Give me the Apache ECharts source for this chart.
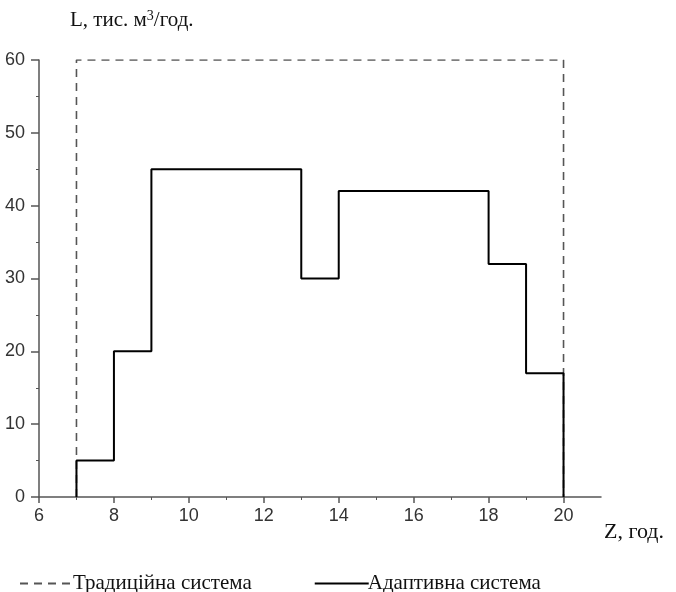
<!DOCTYPE html>
<html><head><meta charset="utf-8">
<script src="https://cdn.jsdelivr.net/npm/echarts@6/dist/echarts.min.js"></script>
<style>html,body{margin:0;padding:0;background:#fff}#c{width:676px;height:592px}</style>
</head><body><div id="c"></div>
<script>
// Traditional system: rectangle outline
const tradX = [7, 7, 20, 20];
const tradY = [0, 60, 60, 0];
// Adaptive system: step boundaries and level values
const adaptBreaks = [7, 8, 9, 13, 14, 18, 19, 20];
const adaptLevels = [5, 20, 45, 30, 42, 32, 17];
const xTicks = [6, 8, 10, 12, 14, 16, 18, 20];
const yTicks = [0, 10, 20, 30, 40, 50, 60];

const tradData = tradX.map((x, i) => [x, tradY[i]]);
const adaptData = [[adaptBreaks[0], 0]];
adaptLevels.forEach((v, i) => { adaptData.push([adaptBreaks[i], v]); adaptData.push([adaptBreaks[i + 1], v]); });
adaptData.push([adaptBreaks[adaptBreaks.length - 1], 0]);

const chart = echarts.init(document.getElementById('c'));
const axisCol = '#555';
chart.setOption({
  animation: false,
  backgroundColor: '#fff',
  grid: { left: 39, right: 75, top: 60, bottom: 95 },
  xAxis: {
    type: 'value', min: 6, max: 21, interval: 2,
    axisLine: { show: true, lineStyle: { color: axisCol, width: 1.5 } },
    axisTick: { show: true, length: 6, lineStyle: { color: axisCol, width: 1.5 }, customValues: xTicks },
    minorTick: { show: true, splitNumber: 2, length: 3, lineStyle: { color: axisCol, width: 1 } },
    axisLabel: { color: '#333', fontFamily: 'Liberation Sans', fontSize: 18, margin: 10, customValues: xTicks },
    splitLine: { show: false }
  },
  yAxis: {
    type: 'value', min: 0, max: 60, interval: 10,
    axisLine: { show: true, lineStyle: { color: axisCol, width: 1.5 } },
    axisTick: { show: true, length: 8, lineStyle: { color: axisCol, width: 1.5 } },
    minorTick: { show: true, splitNumber: 2, length: 3, lineStyle: { color: axisCol, width: 1 } },
    axisLabel: { color: '#333', fontFamily: 'Liberation Sans', fontSize: 18, margin: 14 },
    splitLine: { show: false }
  },
  legend: {
    top: 568, left: 14, itemWidth: 54, itemHeight: 14, itemGap: 62,
    itemStyle: { opacity: 0, borderWidth: 0 },
    textStyle: { fontFamily: 'Liberation Serif', fontSize: 21, color: '#111', padding: [0, 0, 0, -6] },
    data: ['Традиційна система', 'Адаптивна система']
  },
  graphic: [
    { type: 'text', left: 70, top: 9, style: {
      text: '{a|L, тис. м}{s|3}{a|/год.}',
      rich: { a: { fontFamily: 'Liberation Serif', fontSize: 21, fill: '#111' },
              s: { fontFamily: 'Liberation Serif', fontSize: 14, fill: '#111', verticalAlign: 'top', padding: [0, 0, 9, 0] } } } },
    { type: 'text', left: 604, top: 521, style: { text: 'Z, год.', fontFamily: 'Liberation Serif', fontSize: 22, fill: '#111' } }
  ],
  series: [
    { name: 'Традиційна система', type: 'line', data: tradData, symbol: 'none',
      lineStyle: { color: '#555', width: 1.6, type: [8, 6] }, itemStyle: { color: '#555' } },
    { name: 'Адаптивна система', type: 'line', data: adaptData, symbol: 'none',
      lineStyle: { color: '#000', width: 2 }, itemStyle: { color: '#000' } }
  ]
});
</script></body></html>
